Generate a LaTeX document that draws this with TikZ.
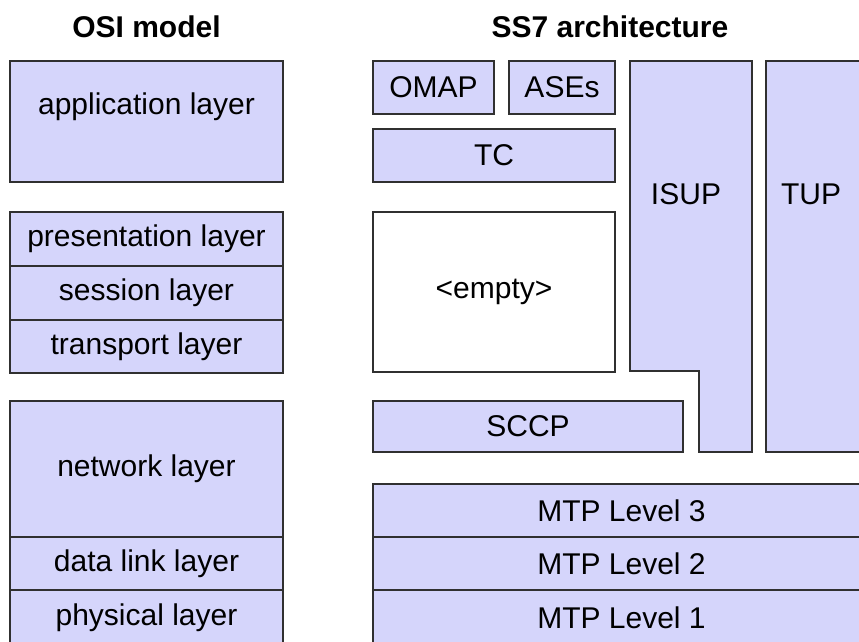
\documentclass[tikz,border=0pt]{standalone}
\usepackage{fontspec}
\setmainfont{Liberation Sans}
\usepackage{tikz}
\usetikzlibrary{positioning}
\definecolor{layerfill}{HTML}{D5D5FB}
\definecolor{layerline}{HTML}{303030}

\begin{document}
\begin{tikzpicture}[
  x=1pt, y=-1pt,
  layer/.style={rectangle, draw=layerline, line width=1.2pt, fill=layerfill, inner sep=0pt, outer sep=0pt, font=\fontsize{30}{36}\selectfont},
  caption/.style={inner sep=0pt, font=\fontsize{30}{36}\selectfont},
  heading/.style={inner sep=0pt, font=\fontsize{30}{36}\selectfont\bfseries}
]
\clip (0,0) rectangle (859,642);
\fill[white] (0,0) rectangle (859,642);

% titles
\node[heading] (osititle) at (146.5,27) {OSI model};
\node[heading] (ss7title) at (610,27) {SS7 architecture};

% OSI model
\node[layer, minimum width=273pt, minimum height=121pt] (app) at (146.5,121.5) {};
\node[caption] (apptext) at (146.5,107) {application layer};
\node[layer, minimum width=273pt, minimum height=54pt] (pres) at (146.5,239) {presentation layer};
\node[layer, minimum width=273pt, minimum height=54pt, below=0pt of pres] (sess) {session layer};
\node[layer, minimum width=273pt, minimum height=53pt, below=0pt of sess] (trans) {transport layer};
\node[layer, minimum width=273pt, minimum height=136pt] (net) at (146.5,469) {network layer};
\node[layer, minimum width=273pt, minimum height=53pt, below=0pt of net] (dlink) {data link layer};
\node[layer, minimum width=273pt, minimum height=56pt, below=0pt of dlink] (phys) {physical layer};

% SS7 architecture
\node[layer, minimum width=121pt, minimum height=53pt] (omap) at (433.5,87.5) {OMAP};
\node[layer, minimum width=106pt, minimum height=53pt] (ases) at (562,87.5) {ASEs};
\node[layer, minimum width=242pt, minimum height=53pt] (tc) at (494,155.5) {TC};
\node[layer, fill=white, minimum width=242pt, minimum height=160pt] (empty) at (494,292) {<empty>};
\draw[draw=layerline, line width=1.2pt, fill=layerfill]
  (630,61) -- (752,61) -- (752,452) -- (699,452) -- (699,371) -- (630,371) -- cycle;
\node[caption] (isup) at (686,194) {ISUP};
\node[layer, minimum width=110pt, minimum height=391pt] (tup) at (821,256.5) {};
\node[caption] (tuptext) at (811,194) {TUP};
\node[layer, minimum width=310pt, minimum height=51pt] (sccp) at (528,426.5) {SCCP};
\node[layer, minimum width=497pt, minimum height=53pt] (mtp3) at (621.5,510.5) {MTP Level 3};
\node[layer, minimum width=497pt, minimum height=53pt, below=0pt of mtp3] (mtp2) {MTP Level 2};
\node[layer, minimum width=497pt, minimum height=56pt, below=0pt of mtp2] (mtp1) {MTP Level 1};
\end{tikzpicture}
\end{document}
